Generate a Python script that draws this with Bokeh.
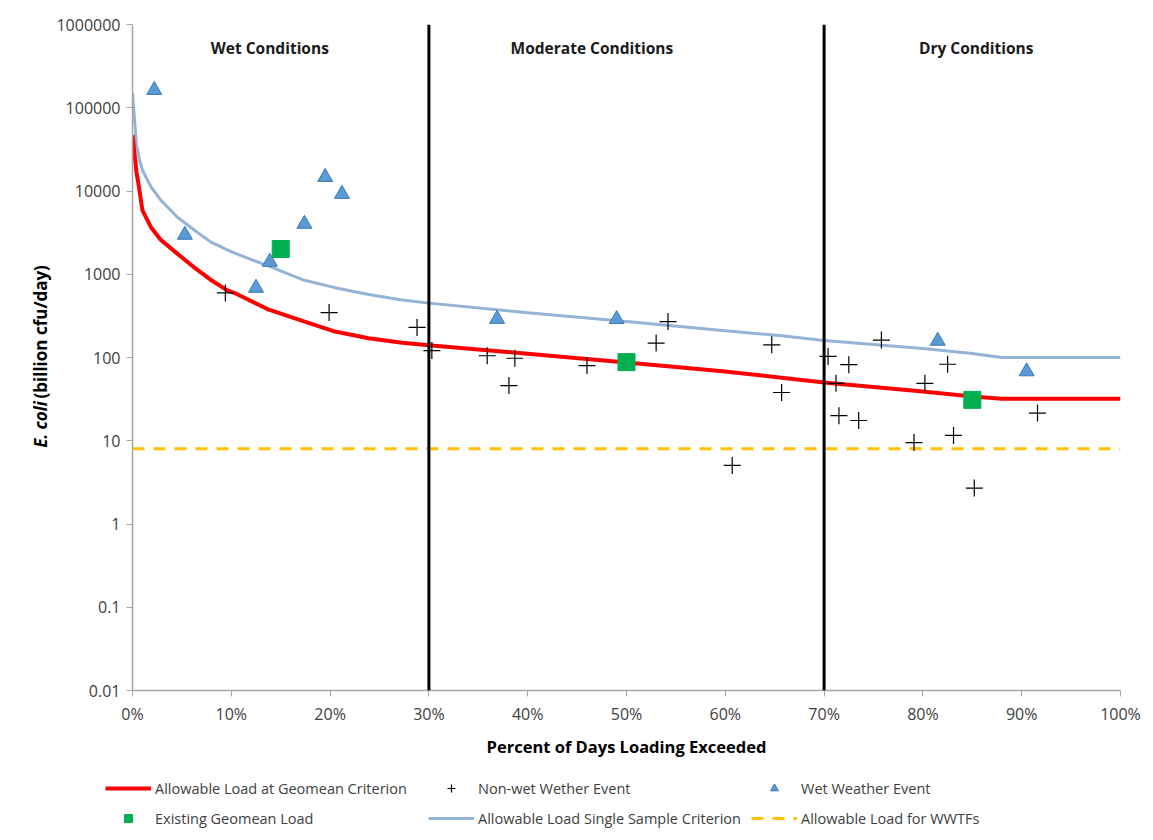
import math
from bokeh.plotting import figure
from bokeh.layouts import column, row
from bokeh.models import (Span, Label, Legend, LegendItem, FixedTicker,
                          CustomJSTickFormatter)
from bokeh.embed import file_html
from bokeh.resources import INLINE

# ---------------- data ----------------
curve_pct = [0, 0.4, 0.7, 1, 1.85, 2.85, 4.5, 6.2, 7.9, 9.6, 10.4, 13.8, 17.2, 20.5, 23.9, 27.3,
             30, 40, 50, 60, 65.7, 70, 80, 85, 88, 100]
geomean_allowable = [47000, 17000, 10300, 5900, 3700, 2600, 1780, 1220, 860, 640, 590, 375, 275, 205,
                     170, 150, 140, 111, 87, 68, 57, 50, 39, 34, 32, 32]
single_sample_allowable = [150000, 36000, 24000, 17900, 11300, 7800, 4900, 3430, 2450, 1960, 1780, 1250,
                           860, 690, 570, 490, 450, 345, 270, 210, 182, 160, 128, 112, 100, 100]

nonwet_pct = [9.4, 19.9, 28.8, 30.3, 35.9, 38.1, 38.7, 46.0, 53.0, 54.2, 60.7, 64.7, 65.7, 70.4,
              71.2, 71.5, 72.5, 73.5, 75.8, 79.1, 80.2, 82.5, 83.1, 85.2, 91.6]
nonwet_load = [596, 346, 230, 121, 105, 46, 98, 80, 149, 270, 5.05, 142, 38, 103,
               49, 20, 82, 17.5, 162, 9.5, 49, 83, 11.6, 2.7, 21.5]

wet_pct = [2.2, 5.3, 12.5, 13.9, 17.4, 19.5, 21.2, 36.9, 49.0, 81.5, 90.5]
wet_load = [163000, 2970, 686, 1406, 4020, 14700, 9200, 290, 288, 158, 68]

existing_pct = [15, 50, 85]
existing_load = [2010, 88, 31]

wwtf_load = 8
condition_bounds = [30, 70]
condition_names = ["Wet Conditions", "Moderate Conditions", "Dry Conditions"]
condition_centers = [13.9, 46.5, 85.4]

x_ticks = [0, 10, 20, 30, 40, 50, 60, 70, 80, 90, 100]
x_tick_labels = ["0%", "10%", "20%", "30%", "40%", "50%", "60%", "70%", "80%", "90%", "100%"]
y_ticks = [0.01, 0.1, 1, 10, 100, 1000, 10000, 100000, 1000000]
y_tick_labels = ["0.01", "0.1", "1", "10", "100", "1000", "10000", "100000", "1000000"]

y_title_italic = "E. coli"
y_title_rest = "(billion cfu/day)"
x_title = "Percent of Days Loading Exceeded"

legend_labels = ["Allowable Load at Geomean Criterion", "Existing Geomean Load",
                 "Non-wet Wether Event", "Allowable Load Single Sample Criterion",
                 "Wet Weather Event", "Allowable Load for WWTFs"]
# legend-only swatch point (kept outside the legend strip's visible range)
swatch_x = [-1]
swatch_y = [-1]

FONT = "Open Sans"
TXT = "#404040"

TOP_H = 8
MAIN_BOTTOM = 760          # page y where main row ends
MAIN_H = MAIN_BOTTOM - TOP_H
LEFT_W = 53
TOTAL_W = 1145
LEG_H = 72
FRAME_TOP, FRAME_BOTTOM, FRAME_LEFT, FRAME_RIGHT = 24, 691, 130, 1120


def bare(fig):
    fig.outline_line_color = None
    fig.xaxis.visible = False
    fig.yaxis.visible = False
    fig.xgrid.visible = False
    fig.ygrid.visible = False
    fig.min_border = 0


# ---------------- top rule ----------------
pt = figure(width=TOTAL_W, height=TOP_H, x_range=(0, 1), y_range=(0, TOP_H),
            output_backend="svg", toolbar_location=None)
bare(pt)
pt.add_layout(Span(location=TOP_H - 6, dimension="width", line_color="#8c8c8c", line_width=2))

# ---------------- y title strip (frame is aligned with the main frame) ----------------
pl = figure(width=LEFT_W, height=MAIN_H, x_range=(0, LEFT_W),
            y_range=(MAIN_BOTTOM - FRAME_BOTTOM, MAIN_BOTTOM - FRAME_TOP),
            output_backend="svg", toolbar_location=None)
bare(pl)
pl.min_border_top = FRAME_TOP - TOP_H
pl.min_border_bottom = MAIN_BOTTOM - FRAME_BOTTOM
pl.add_layout(Label(x=40, y=MAIN_BOTTOM - 448, text=y_title_italic, angle=math.pi / 2, text_align="left",
                    text_baseline="middle", text_font=FONT, text_font_size="17px",
                    text_font_style="bold italic", text_color="#000000"))
pl.add_layout(Label(x=40, y=MAIN_BOTTOM - 265, text=y_title_rest, angle=math.pi / 2, text_align="right",
                    text_baseline="middle", text_font=FONT, text_font_size="17px",
                    text_font_style="bold", text_color="#000000"))

# ---------------- main figure ----------------
p = figure(width=TOTAL_W - LEFT_W, height=MAIN_H, y_axis_type="log",
           x_range=(x_ticks[0], x_ticks[-1]), y_range=(y_ticks[0], y_ticks[-1]),
           output_backend="svg", toolbar_location=None,
           min_border_left=FRAME_LEFT - LEFT_W, min_border_right=TOTAL_W - FRAME_RIGHT,
           min_border_top=FRAME_TOP - TOP_H, min_border_bottom=MAIN_BOTTOM - FRAME_BOTTOM)
p.outline_line_color = None
p.xgrid.visible = False
p.ygrid.visible = False

for ax, ticks, labels, islog in [(p.xaxis[0], x_ticks, x_tick_labels, False),
                                 (p.yaxis[0], y_ticks, y_tick_labels, True)]:
    ax.ticker = FixedTicker(ticks=ticks, minor_ticks=[])
    code = """
    let best = 0, bd = Infinity;
    for (let i = 0; i < tvals.length; i++) {
        const d = islog ? Math.abs(Math.log10(tick) - Math.log10(tvals[i])) : Math.abs(tick - tvals[i]);
        if (d < bd) { bd = d; best = i; }
    }
    return tlabels[best];
    """
    ax.formatter = CustomJSTickFormatter(args=dict(tvals=ticks, tlabels=labels, islog=islog), code=code)
    ax.axis_line_color = "#A6A6A6"
    ax.axis_line_width = 1.5
    ax.major_tick_line_color = "#A6A6A6"
    ax.major_tick_out = 6
    ax.major_tick_in = 0
    ax.minor_tick_out = 0
    ax.minor_tick_in = 0
    ax.major_label_text_font = FONT
    ax.major_label_text_font_size = "16px"
    ax.major_label_text_color = TXT
    ax.major_label_standoff = 6

p.xaxis.axis_label = x_title
p.xaxis.axis_label_text_font = FONT
p.xaxis.axis_label_text_font_style = "bold"
p.xaxis.axis_label_text_color = "#000000"
p.xaxis.axis_label_text_font_size = "16.5px"
p.xaxis.axis_label_standoff = 7

for b in condition_bounds:
    p.add_layout(Span(location=b, dimension="height", line_color="black", line_width=3))

WWTF_STYLE = dict(line_color="#FFC000", line_width=3, line_dash="12 9")
BLUE_STYLE = dict(line_color="#95B3D7", line_width=3)
RED_STYLE = dict(line_color="#FF0000", line_width=4)
CROSS_STYLE = dict(marker="cross", size=17, line_color="black", line_width=1.2)
TRI_STYLE = dict(marker="triangle", size=15, fill_color="#5B9BD5", line_color="#3A78B5", line_width=1)
SQ_STYLE = dict(marker="square", size=17, fill_color="#00B050", line_color="#00B050")

p.line(x=[x_ticks[0], x_ticks[-1]], y=[wwtf_load, wwtf_load], **WWTF_STYLE)
p.line(curve_pct, single_sample_allowable, **BLUE_STYLE)
p.line(curve_pct, geomean_allowable, **RED_STYLE)
p.scatter(nonwet_pct, nonwet_load, **CROSS_STYLE)
p.scatter(wet_pct, wet_load, **TRI_STYLE)
p.scatter(existing_pct, existing_load, **SQ_STYLE)

for name, cx in zip(condition_names, condition_centers):
    p.add_layout(Label(x=cx, y=520000, text=name, text_align="center", text_baseline="middle",
                       text_font=FONT, text_font_size="15.5px", text_font_style="bold",
                       text_color="#1a1a1a"))

# ---------------- legend strip ----------------
pg = figure(width=TOTAL_W, height=LEG_H, x_range=(0, 1), y_range=(0, 1),
            output_backend="svg", toolbar_location=None)
bare(pg)
g_red = pg.line(x=swatch_x, y=swatch_y, **RED_STYLE)
g_sq = pg.scatter(x=swatch_x, y=swatch_y, **SQ_STYLE)
g_cross = pg.scatter(x=swatch_x, y=swatch_y, **CROSS_STYLE)
g_blue = pg.line(x=swatch_x, y=swatch_y, **BLUE_STYLE)
g_tri = pg.scatter(x=swatch_x, y=swatch_y, **TRI_STYLE)
g_wwtf = pg.line(x=swatch_x, y=swatch_y, **WWTF_STYLE)

items = [LegendItem(label=lab, renderers=[r]) for lab, r in
         zip(legend_labels, [g_red, g_sq, g_cross, g_blue, g_tri, g_wwtf])]
legend = Legend(items=items, ncols=3, location=(105, LEG_H - 68), padding=0, margin=0, spacing=10,
                glyph_width=46, glyph_height=20, label_height=20, label_width=263, label_standoff=4,
                border_line_color=None, background_fill_alpha=0,
                label_text_font=FONT, label_text_font_size="14.5px", label_text_color=TXT)
pg.add_layout(legend)

layout = column(pt, row(pl, p, spacing=0), pg, spacing=0)
open("out.html", "w").write(file_html(layout, INLINE))
